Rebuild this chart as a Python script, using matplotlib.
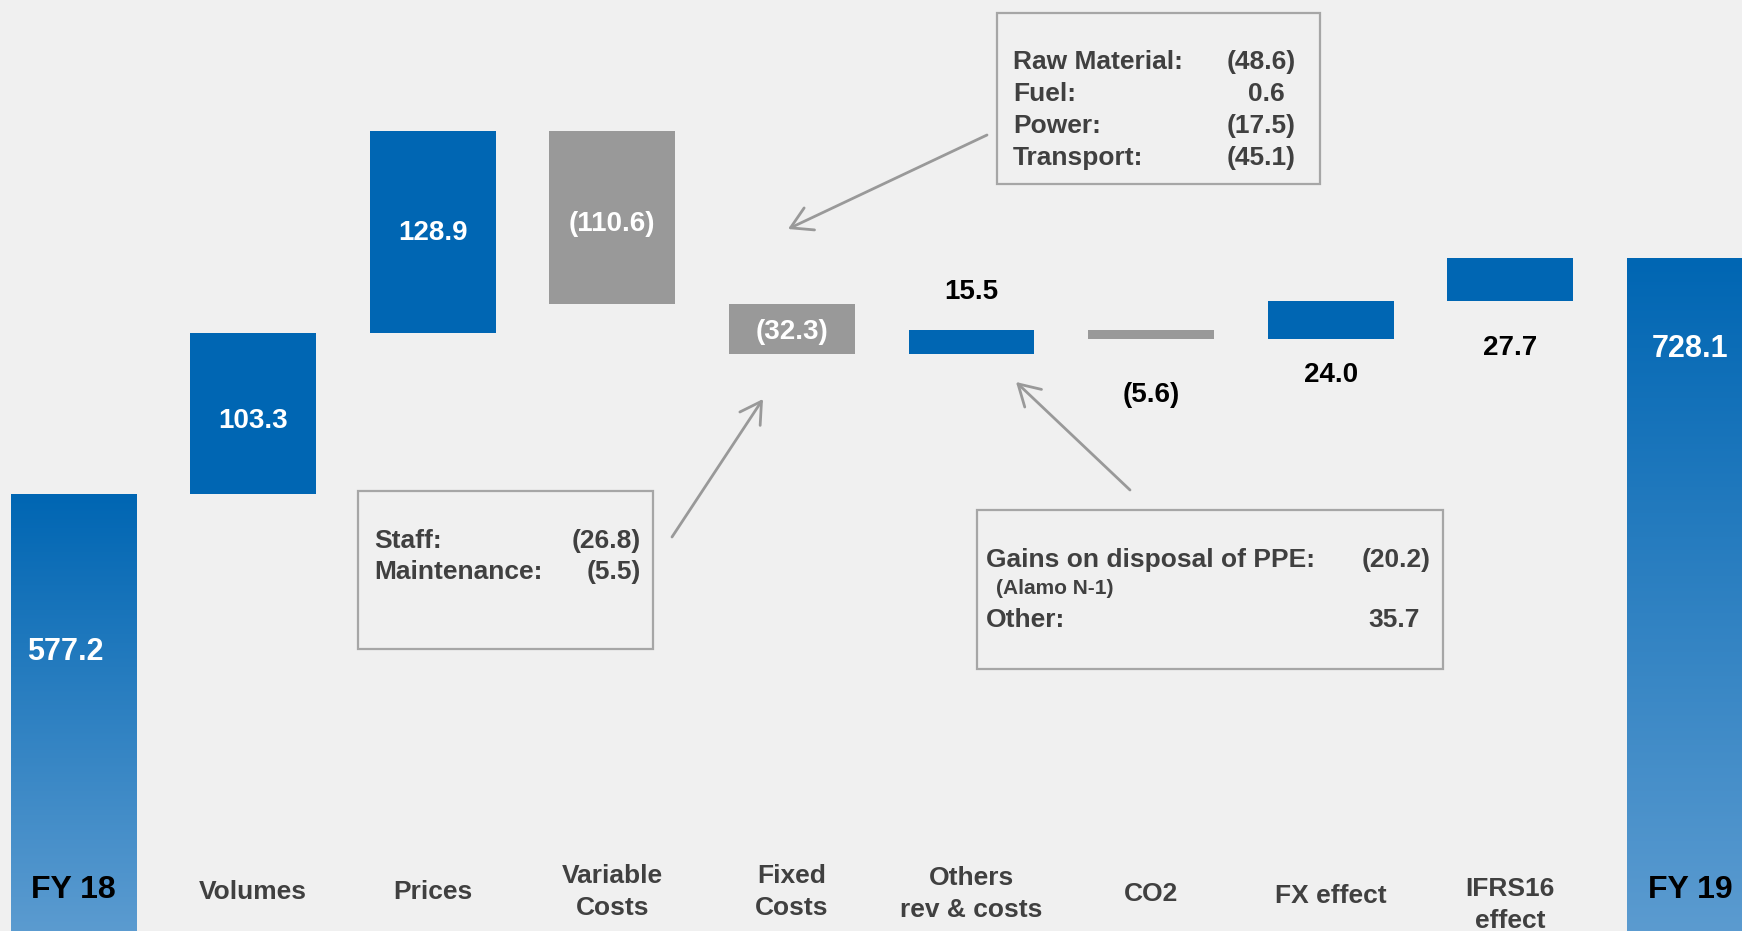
import numpy as np
import matplotlib
matplotlib.use("Agg")
import matplotlib.pyplot as plt
from matplotlib.colors import LinearSegmentedColormap
from matplotlib.patches import Rectangle
from matplotlib.transforms import blended_transform_factory

plt.rcParams['font.family'] = ['Liberation Sans', 'DejaVu Sans']
plt.rcParams['font.weight'] = 'bold'

# EBITDA bridge FY18 -> FY19
categories = ['FY 18', 'Volumes', 'Prices', 'Variable\nCosts', 'Fixed\nCosts',
              'Others\nrev & costs', 'CO2', 'FX effect', 'IFRS16\neffect', 'FY 19']
start_total = 577.2
deltas = [103.3, 128.9, -110.6, -32.3, 15.5, -5.6, 24.0, 27.7]
end_total = 728.1

# breakdown boxes
var_items = ['Raw Material:', 'Fuel:', 'Power:', 'Transport:']
var_values = [-48.6, 0.6, -17.5, -45.1]
fixed_items = ['Staff:', 'Maintenance:']
fixed_values = [-26.8, -5.5]
other_items = ['Gains on disposal of PPE:', 'Other:']
other_values = [-20.2, 35.7]
other_note = '(Alamo N-1)'

BG = '#f0f0f0'
BLUE = '#0066b3'
GREY = '#999999'
DARK = '#404040'
W, H = 1742, 931


def fmt(v):
    return f"({abs(v):.1f})" if v < 0 else f"{v:.1f}"


def px(x, y):
    # pixel position -> axes fraction (axes fill the whole figure)
    return x / W, 1 - y / H


fig = plt.figure(figsize=(W / 100, H / 100), dpi=100, facecolor=BG)
ax = fig.add_axes([0, 0, 1, 1])
ax.set_facecolor(BG)
ax.axis('off')

ymin, ymax = 297.6, 893.3
width = 0.7

grad = LinearSegmentedColormap.from_list('grad', ['#5b9bd0', BLUE])
gradient = np.linspace(0, 1, 256).reshape(-1, 1)

# totals with vertical gradient
totals = {0: start_total, len(categories) - 1: end_total}
for i, val in totals.items():
    ax.imshow(gradient, cmap=grad, origin='lower', aspect='auto',
              extent=[i - width / 2, i + width / 2, ymin, val], zorder=2)

# floating delta bars
bottoms, tops = [], []
level = start_total
for i, d in enumerate(deltas, start=1):
    lo, hi = (level, level + d) if d >= 0 else (level + d, level)
    ax.bar(i, hi - lo, bottom=lo, width=width,
           color=BLUE if d >= 0 else GREY, zorder=2)
    bottoms.append(lo)
    tops.append(hi)
    level += d

ax.set_xlim(-0.409, 9.29)
ax.set_ylim(ymin, ymax)

# value labels: (anchor, dy in px downward, colour, size)
values = [start_total] + deltas + [end_total]
bar_lo = [ymin] + bottoms + [ymin]
bar_hi = [start_total] + tops + [end_total]
label_pos = [('top', 158, 'white', 22), ('mid', 8, 'white', 20), ('mid', 1, 'white', 20),
             ('mid', 6, 'white', 20), ('mid', 3, 'white', 20), ('top', -38, 'black', 20),
             ('bottom', 56, 'black', 20), ('bottom', 36, 'black', 20),
             ('bottom', 47, 'black', 20), ('top', 91, 'white', 22)]
for i, (v, lo, hi, (anchor, dy, col, fs)) in enumerate(zip(values, bar_lo, bar_hi, label_pos)):
    base = {'top': hi, 'bottom': lo, 'mid': (lo + hi) / 2}[anchor]
    dx = -8 if i == 0 else 0
    ax.annotate(fmt(v), xy=(i, base), xytext=(dx * 0.72, -dy * 0.72),
                textcoords='offset points', ha='center', va='center',
                color=col, fontsize=fs, fontweight='bold', zorder=5)

# category labels along the bottom
trans = blended_transform_factory(ax.transData, ax.transAxes)
cat_y = [890, 892, 892, 892, 892, 894, 894, 896, 905, 890]
for i, (name, y) in enumerate(zip(categories, cat_y)):
    total = i in totals
    ax.text(i, 1 - y / H, name, transform=trans, ha='center', va='center',
            multialignment='center', linespacing=1.37,
            fontsize=23 if total else 19, fontweight='bold',
            color='black' if total else DARK, zorder=5)


def draw_box(x0, y0, x1, y1):
    ax.add_patch(Rectangle(px(x0, y1), (x1 - x0) / W, (y1 - y0) / H,
                           transform=ax.transAxes, fill=False,
                           edgecolor='#a6a6a6', linewidth=1.6, zorder=4))


def box_rows(items, vals, x_left, x_right, ys, fs=19):
    for name, v, y in zip(items, vals, ys):
        ax.text(*px(x_left, y), name, transform=ax.transAxes, ha='left',
                va='center', fontsize=fs, color=DARK, fontweight='bold')
        xr = x_right if v < 0 else x_right - 11
        ax.text(*px(xr, y), fmt(v), transform=ax.transAxes, ha='right',
                va='center', fontsize=fs, color=DARK, fontweight='bold')


def arrow(tail, head):
    ax.annotate('', xy=px(*head), xytext=px(*tail), xycoords='axes fraction',
                textcoords='axes fraction',
                arrowprops=dict(arrowstyle='->,head_length=0.6,head_width=0.35',
                                color=GREY, lw=2, mutation_scale=25,
                                shrinkA=0, shrinkB=0), zorder=4)


# variable costs breakdown
draw_box(997, 13, 1320, 184)
box_rows(var_items, var_values, 1013, 1296, [62, 94, 126, 158])
arrow((987, 135), (788, 229))

# fixed costs breakdown
draw_box(358, 491, 653, 649)
box_rows(fixed_items, fixed_values, 374, 641, [541, 572])
arrow((672, 537), (763, 399))

# others breakdown
draw_box(977, 510, 1443, 669)
box_rows(other_items, other_values, 986, 1431, [560, 620])
ax.text(*px(996, 589), other_note, transform=ax.transAxes, ha='left',
        va='center', fontsize=15, color=DARK, fontweight='bold')
arrow((1130, 490), (1016, 382))

fig.savefig('out.png', dpi=100, facecolor=BG)
